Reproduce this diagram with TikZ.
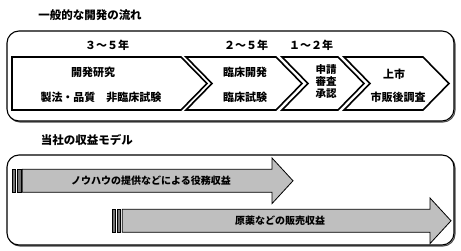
\documentclass[tikz,border=0pt]{standalone}
\usepackage{fontspec}
\newfontfamily\jp{Noto Sans CJK JP}
\begin{document}
\begin{tikzpicture}[x=1pt,y=-1pt,
  frame/.style={draw=black,line width=1.1pt,rounded corners=12pt,fill=white},
  shadowframe/.style={draw=black!70,line width=1.1pt,rounded corners=12pt},
  chev/.style={draw=black,line width=1.6pt,fill=white,line join=miter},
  arrowbody/.style={draw=black,line width=0.8pt,fill=black!25,line join=miter},
  stripe/.style={draw=black,line width=0.7pt,fill=black!55},
  txt/.style={font=\jp\bfseries\fontsize{11}{13}\selectfont,inner sep=0pt},
  small/.style={font=\jp\bfseries\fontsize{10}{12}\selectfont,inner sep=0pt},
  ttl/.style={font=\jp\bfseries\fontsize{11.5}{13}\selectfont,inner sep=0pt}]
\useasboundingbox (0,0) rectangle (461,251);
% titles
\node[ttl] (t1) at (90,15) {一般的な開発の流れ};
\node[ttl] (t2) at (87,140) {当社の収益モデル};
% frames
\draw[shadowframe] (8,32) rectangle (455,122);
\draw[frame] (7,31) rectangle (454,121);
\draw[shadowframe] (8,156) rectangle (455,246);
\draw[frame] (7,155) rectangle (454,245);
% chevrons
\draw[chev] (12,57) -- (181,57) -- (207,83.5) -- (181,110) -- (12,110) -- cycle;
\draw[chev] (186,57) -- (276,57) -- (302,83.5) -- (276,110) -- (186,110) -- (212,83.5) -- cycle;
\draw[chev] (282,57) -- (338,57) -- (364,83.5) -- (338,110) -- (282,110) -- (308,83.5) -- cycle;
\draw[chev] (344,57) -- (423,57) -- (449,83.5) -- (423,110) -- (344,110) -- (370,83.5) -- cycle;
% year labels
\node[txt] (y1) at (107,45) {３～５年};
\node[txt] (y2) at (246,45) {２～５年};
\node[txt] (y3) at (311,45) {１～２年};
% chevron texts
\node[txt] (a1) at (93,72) {開発研究};
\node[txt] (a2) at (101,97) {製法・品質　非臨床試験};
\node[txt] (b1) at (245,72) {臨床開発};
\node[txt] (b2) at (245,97) {臨床試験};
\node[txt,align=center,font=\jp\bfseries\fontsize{10.5}{12}\selectfont] (c1) at (326,82) {申請\\審査\\承認};
\node[txt] (d1) at (394,74) {上市};
\node[txt] (d2) at (398,97) {市販後調査};
% arrows
\draw[stripe] (12.3,169.3) rectangle (15.7,192.3);
\draw[stripe] (17.3,169.3) rectangle (21,192.3);
\draw[arrowbody] (22.3,169.3) -- (272,169.3) -- (272,158) -- (293,180.8) -- (272,203.6) -- (272,192.3) -- (22.3,192.3) -- cycle;
\draw[stripe] (112.3,209.3) rectangle (115,232.3);
\draw[stripe] (117,209.3) rectangle (120.3,232.3);
\draw[arrowbody] (122.3,209.3) -- (430,209.3) -- (430,198) -- (451,220.8) -- (430,243.6) -- (430,232.3) -- (122.3,232.3) -- cycle;
\node[small] (e1) at (151,181) {ノウハウの提供などによる役務収益};
\node[small] (e2) at (280,221) {原薬などの販売収益};
\end{tikzpicture}
\end{document}
